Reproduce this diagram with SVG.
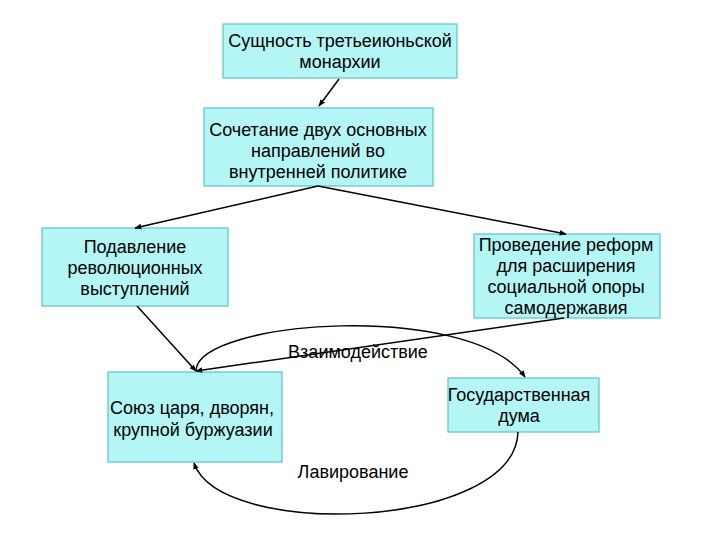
<svg xmlns="http://www.w3.org/2000/svg" width="720" height="540" viewBox="0 0 720 540">
<style>
.box{fill:#b4f6f6;stroke:#5cc4c4;stroke-width:1.2}
.t{font-family:"Liberation Sans",Arial,sans-serif;font-size:18px;fill:#000;text-anchor:middle}
.c{fill:none;stroke:#000;stroke-width:1.5}
</style>
<defs>
<marker id="ah" viewBox="0 0 10 10" refX="9" refY="5" markerWidth="7" markerHeight="7" orient="auto" markerUnits="userSpaceOnUse">
<path d="M0,1 L10,5 L0,9 z" fill="#000"/>
</marker>
</defs>
<rect width="720" height="540" fill="#fff"/>
<g id="n1"><rect class="box" x="223" y="24" width="234" height="54"/>
<text class="t" x="340" y="47">Сущность третьеиюньской</text>
<text class="t" x="340" y="68">монархии</text></g>
<g id="n2"><rect class="box" x="204" y="108" width="229" height="78"/>
<text class="t" x="318" y="136">Сочетание двух основных</text>
<text class="t" x="318" y="157">направлений во</text>
<text class="t" x="318" y="178">внутренней политике</text></g>
<g id="n3"><rect class="box" x="42" y="228" width="186" height="78"/>
<text class="t" x="135" y="253">Подавление</text>
<text class="t" x="135" y="274">революционных</text>
<text class="t" x="135" y="295">выступлений</text></g>
<g id="n4"><rect class="box" x="474" y="234" width="186" height="84"/>
<text class="t" x="566" y="251">Проведение реформ</text>
<text class="t" x="566" y="272">для расширения</text>
<text class="t" x="566" y="293">социальной опоры</text>
<text class="t" x="566" y="314">самодержавия</text></g>
<g id="n5"><rect class="box" x="108" y="372" width="174" height="90"/>
<text class="t" x="192" y="414">Союз царя, дворян,</text>
<text class="t" x="193" y="436">крупной буржуазии</text></g>
<g id="n6"><rect class="box" x="448" y="378" width="151" height="54"/>
<text class="t" x="519" y="401">Государственная</text>
<text class="t" x="519" y="422">дума</text></g>
<g id="connectors">
<line class="c" x1="339" y1="79" x2="319" y2="106" marker-end="url(#ah)"/>
<line class="c" x1="318" y1="186" x2="135" y2="228" marker-end="url(#ah)"/>
<line class="c" x1="318" y1="186" x2="566" y2="234" marker-end="url(#ah)"/>
<line class="c" x1="137" y1="306" x2="196" y2="371" marker-end="url(#ah)"/>
<line class="c" x1="564" y1="318" x2="196" y2="371" marker-end="url(#ah)"/>
<path class="c" d="M196,370 C200,320 470,300 525,377" marker-end="url(#ah)"/>
<path class="c" d="M518,432 C515,530 220,540 194,463" marker-end="url(#ah)"/>
</g>
<text class="t" x="358" y="358">Взаимодействие</text>
<text class="t" x="353" y="478">Лавирование</text>
</svg>
